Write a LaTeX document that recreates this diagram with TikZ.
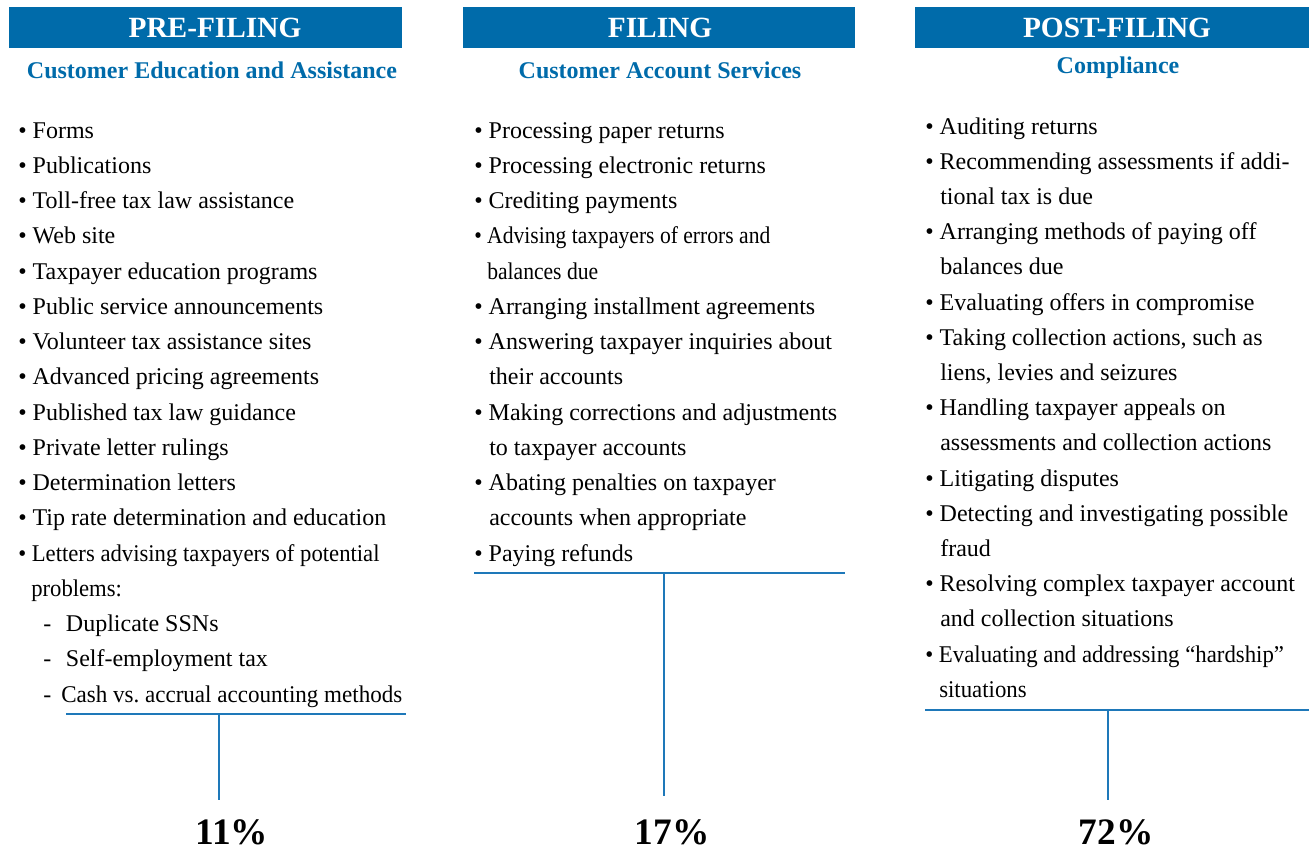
\documentclass[tikz,border=0pt]{standalone}
\usepackage{fontspec}
\setmainfont{Liberation Serif}
\definecolor{irsblue}{RGB}{0,107,170}
\definecolor{lineblue}{RGB}{30,120,185}
\begin{document}
\begin{tikzpicture}[x=0.75pt,y=-0.75pt,
  bar/.style={fill=irsblue,draw=none},
  head/.style={text=white,font=\fontsize{22}{26}\selectfont\bfseries,anchor=base,inner sep=0pt},
  sub/.style={text=irsblue,font=\fontsize{18}{21}\selectfont\bfseries,anchor=base,inner sep=0pt},
  item/.style={font=\fontsize{18}{21}\selectfont,anchor=base west,inner sep=0pt},
  pct/.style={font=\fontsize{28}{32}\selectfont\bfseries,anchor=base,inner sep=0pt},
  rule/.style={draw=lineblue,line width=1.1pt}]
\useasboundingbox (0,0) rectangle (1309,850);
% header bars
\fill[bar] (9,7) rectangle (402,48);
\fill[bar] (463,7) rectangle (855,48);
\fill[bar] (915,7) rectangle (1309,48);
\node[head] (h1) at (215,37) {PRE-FILING};
\node[head] (h2) at (660,37) {FILING};
\node[head] (h3) at (1117,37) {POST-FILING};
\node[sub] (s1) at (212,78) {Customer Education and Assistance};
\node[sub] (s2) at (660,78) {Customer Account Services};
\node[sub] (s3) at (1118,73) {Compliance};
% column 1
\foreach \x/\t [count=\i from 0] in {
 18/\textbullet\ Forms,
 18/\textbullet\ Publications,
 18/\textbullet\ Toll-free tax law assistance,
 18/\textbullet\ Web site,
 18/\textbullet\ Taxpayer education programs,
 18/\textbullet\ Public service announcements,
 18/\textbullet\ Volunteer tax assistance sites,
 18/\textbullet\ Advanced pricing agreements,
 18/\textbullet\ Published tax law guidance,
 18/\textbullet\ Private letter rulings,
 18/\textbullet\ Determination letters,
 18/\textbullet\ Tip rate determination and education,
 18/\scalebox{0.945}[1]{\textbullet\ Letters advising taxpayers of potential},
 31/\scalebox{0.945}[1]{problems:},
 43/-\hspace{11pt}Duplicate SSNs,
 43/-\hspace{11pt}Self-employment tax,
 43/-\hspace{7.5pt}\scalebox{0.96}[1]{Cash vs.\ accrual accounting methods}}
 { \node[item] (a\i) at (\x,138+35.25*\i) {\t}; }
% column 2
\foreach \x/\t [count=\i from 0] in {
 474/\textbullet\ Processing paper returns,
 474/\textbullet\ Processing electronic returns,
 474/\textbullet\ Crediting payments,
 474/\scalebox{0.9}[1]{\textbullet\ Advising taxpayers of errors and},
 487/\scalebox{0.9}[1]{balances due},
 474/\textbullet\ Arranging installment agreements,
 474/\textbullet\ Answering taxpayer inquiries about,
 489/their accounts,
 474/\textbullet\ Making corrections and adjustments,
 489/to taxpayer accounts,
 474/\textbullet\ Abating penalties on taxpayer,
 489/accounts when appropriate,
 474/\textbullet\ Paying refunds}
 { \node[item] (b\i) at (\x,138+35.25*\i) {\t}; }
% column 3
\foreach \x/\t [count=\i from 0] in {
 925/\textbullet\ Auditing returns,
 925/\textbullet\ Recommending assessments if addi-,
 940/tional tax is due,
 925/\textbullet\ Arranging methods of paying off,
 940/balances due,
 925/\textbullet\ Evaluating offers in compromise,
 925/{\textbullet\ Taking collection actions, such as},
 940/{liens, levies and seizures},
 925/\textbullet\ Handling taxpayer appeals on,
 940/assessments and collection actions,
 925/\textbullet\ Litigating disputes,
 925/\textbullet\ Detecting and investigating possible,
 940/fraud,
 925/\textbullet\ Resolving complex taxpayer account,
 940/and collection situations,
 925/\scalebox{0.95}[1]{\textbullet\ Evaluating and addressing “hardship”},
 939/\scalebox{0.95}[1]{situations}}
 { \node[item] (c\i) at (\x,134+35.2*\i) {\t}; }
% rules and connectors
\coordinate (l1a) at (66,714);  \coordinate (l1b) at (406,714);
\coordinate (l2a) at (474,573); \coordinate (l2b) at (845,573);
\coordinate (l3a) at (925,710); \coordinate (l3b) at (1309,710);
\coordinate (t1) at (219,714);  \coordinate (e1) at (219,800);
\coordinate (t2) at (664,573);  \coordinate (e2) at (664,796);
\coordinate (t3) at (1108,710); \coordinate (e3) at (1108,800);
\draw[rule] (l1a) -- (l1b);
\draw[rule] (l2a) -- (l2b);
\draw[rule] (l3a) -- (l3b);
\draw[rule] (t1) -- (e1);
\draw[rule] (t2) -- (e2);
\draw[rule] (t3) -- (e3);
\node[pct] (p1) at (232,844) {11\%};
\node[pct] (p2) at (672,844) {17\%};
\node[pct] (p3) at (1116,844) {72\%};
\end{tikzpicture}
\end{document}
